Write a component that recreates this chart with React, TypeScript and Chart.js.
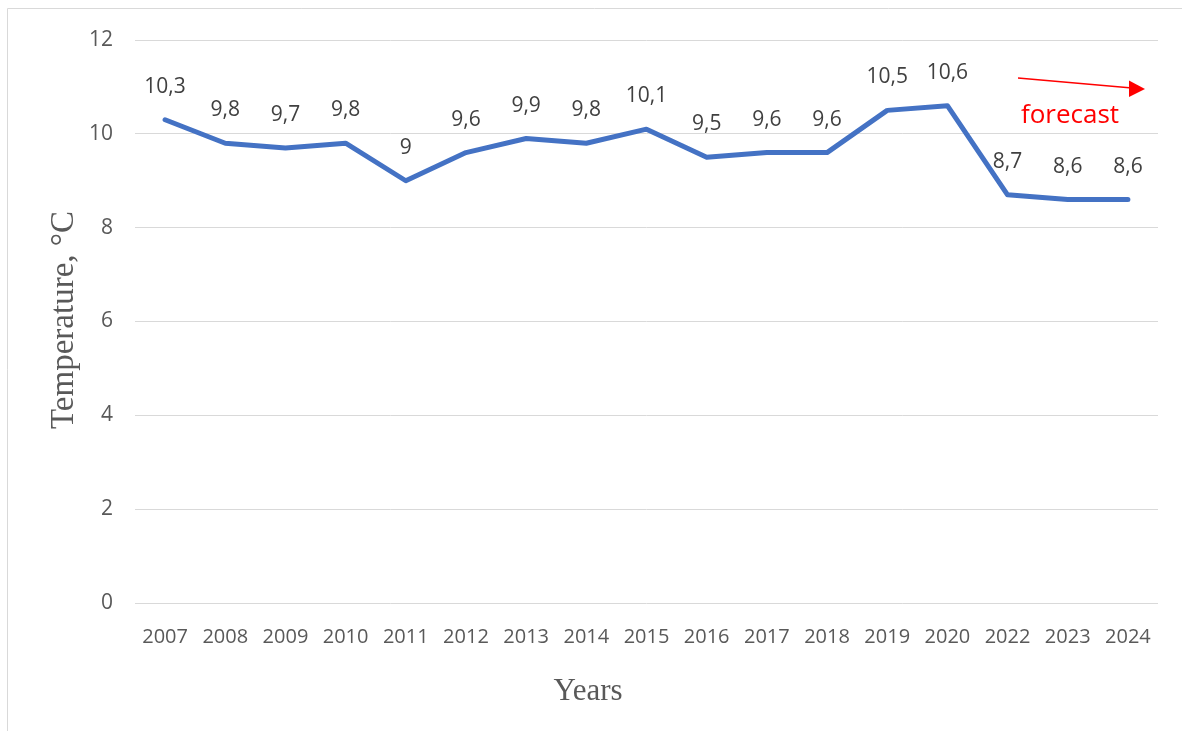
import React, { useEffect, useRef } from "react";
import { Chart, registerables } from "chart.js";

Chart.register(...registerables);

const years = ["2007", "2008", "2009", "2010", "2011", "2012", "2013", "2014", "2015", "2016", "2017", "2018", "2019", "2020", "2022", "2023", "2024"];
const temperatures = [10.3, 9.8, 9.7, 9.8, 9.0, 9.6, 9.9, 9.8, 10.1, 9.5, 9.6, 9.6, 10.5, 10.6, 8.7, 8.6, 8.6];
const yTicks = [0, 2, 4, 6, 8, 10, 12];

const W = 1182;
const H = 731;
const LABEL_FONT = "'Open Sans', 'Noto Sans', sans-serif";
const SERIF = "'Liberation Serif', 'DejaVu Serif', serif";

const formatValue = (v: number) => String(v).replace(".", ",");

// Draws the value labels, axis titles, frame and the forecast arrow.
const decorations = {
  id: "decorations",
  afterDatasetsDraw(chart: any) {
    const ctx = chart.ctx as CanvasRenderingContext2D;
    const meta = chart.getDatasetMeta(0);
    ctx.save();

    // outer frame (left and top edges)
    ctx.strokeStyle = "#d9d9d9";
    ctx.lineWidth = 1;
    ctx.beginPath();
    ctx.moveTo(7.5, H);
    ctx.lineTo(7.5, 8.5);
    ctx.lineTo(W, 8.5);
    ctx.stroke();

    // value labels
    ctx.fillStyle = "#404040";
    ctx.font = `21px ${LABEL_FONT}`;
    ctx.textAlign = "center";
    ctx.textBaseline = "middle";
    meta.data.forEach((pt: any, i: number) => {
      ctx.fillText(formatValue(temperatures[i]), pt.x, pt.y - 33);
    });

    // axis titles
    ctx.fillStyle = "#595959";
    ctx.font = `31px ${SERIF}`;
    ctx.fillText("Years", 588, 692);
    ctx.save();
    ctx.translate(64, 320);
    ctx.rotate(-Math.PI / 2);
    ctx.font = `33px ${SERIF}`;
    ctx.fillText("Temperature, °C", 0, 0);
    ctx.restore();

    // forecast arrow
    ctx.strokeStyle = "#ff0000";
    ctx.fillStyle = "#ff0000";
    ctx.lineWidth = 1.3;
    ctx.beginPath();
    ctx.moveTo(1018, 78);
    ctx.lineTo(1132, 88);
    ctx.stroke();
    ctx.beginPath();
    ctx.moveTo(1145, 89);
    ctx.lineTo(1129, 80.5);
    ctx.lineTo(1129, 97);
    ctx.closePath();
    ctx.fill();
    ctx.font = `26px ${LABEL_FONT}`;
    ctx.fillText("forecast", 1070, 116);

    ctx.restore();
  },
};

export default function App() {
  const canvasRef = useRef<HTMLCanvasElement | null>(null);

  useEffect(() => {
    if (!canvasRef.current) return;
    const chart = new Chart(canvasRef.current, {
      type: "line",
      data: {
        labels: years,
        datasets: [
          {
            data: temperatures,
            borderColor: "#4472c4",
            borderWidth: 5,
            borderJoinStyle: "round",
            borderCapStyle: "round",
            pointRadius: 0,
            tension: 0,
            fill: false,
          },
        ],
      },
      options: {
        responsive: false,
        animation: false,
        layout: { padding: { top: 40, right: 24, left: 0, bottom: 0 } },
        plugins: {
          legend: { display: false },
          tooltip: { enabled: false },
          title: { display: false },
        },
        scales: {
          x: {
            offset: true,
            grid: { display: false, drawTicks: false },
            border: { display: false },
            ticks: {
              color: "#595959",
              font: { family: LABEL_FONT, size: 20 },
              padding: 22,
              maxRotation: 0,
              autoSkip: false,
            },
            afterFit: (scale: any) => {
              scale.height = H - 603;
            },
          },
          y: {
            min: 0,
            max: 12,
            afterBuildTicks: (scale: any) => {
              scale.ticks = yTicks.map((v) => ({ value: v }));
            },
            grid: { color: "#d9d9d9", lineWidth: 1, drawTicks: false },
            border: { display: false },
            ticks: {
              color: "#595959",
              font: { family: LABEL_FONT, size: 21 },
              padding: 22,
            },
            afterFit: (scale: any) => {
              scale.width = 135;
            },
          },
        },
      },
      plugins: [decorations],
    });
    return () => chart.destroy();
  }, []);

  return (
    <canvas
      ref={canvasRef}
      width={W}
      height={H}
      style={{ position: "fixed", left: 0, top: 0, width: W, height: H, background: "#fff" }}
    />
  );
}
